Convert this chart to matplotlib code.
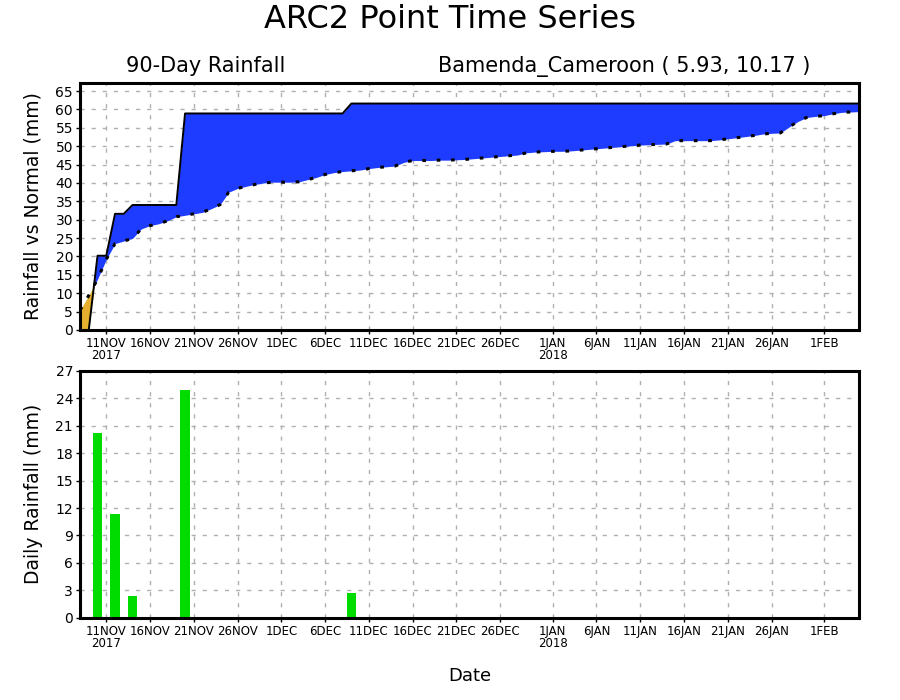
import numpy as np
import pandas as pd
import matplotlib
matplotlib.use('Agg')
import matplotlib.pyplot as plt
import matplotlib.dates as mdates

# 90 days of data, 8 Nov 2017 .. 5 Feb 2018
dates = pd.date_range('2017-11-08', periods=90, freq='D')

# days with rain (mm)
rain_days = ['2017-11-10', '2017-11-12', '2017-11-14', '2017-11-20', '2017-12-09']
rain_mm = [20.2, 11.4, 2.4, 24.9, 2.7]

# cumulative normal (mm), one value per day
normal = [
    5.4, 9.4, 13.8, 19.2, 23.5, 24.2, 24.9, 27.5, 28.4, 28.9,
    29.7, 30.8, 31.2, 31.6, 32.0, 33.0, 34.1, 37.5, 38.5, 39.1,
    39.6, 40.0, 40.2,
    40.2, 40.2, 40.3, 40.9, 41.5, 42.3, 42.8, 43.1, 43.3, 43.5,
    43.9, 44.2, 44.4, 44.6, 45.6, 46.1, 46.1, 46.1, 46.2, 46.2,
    46.3, 46.4, 46.6, 46.8, 47.0, 47.2, 47.4, 47.6, 48.2, 48.4,
    48.5,
    48.6, 48.6, 48.7, 48.9, 49.1, 49.3, 49.5, 49.7, 49.9, 50.1,
    50.3, 50.4, 50.5, 50.6, 51.5, 51.5, 51.5, 51.5, 51.5, 51.7,
    52.0, 52.3, 52.6, 52.9, 53.3, 53.5, 53.6, 55.2, 56.7, 57.8,
    58.1,
    58.3, 58.8, 59.2, 59.3, 59.4,
]

tick_dates = ['2017-11-11', '2017-11-16', '2017-11-21', '2017-11-26', '2017-12-01',
              '2017-12-06', '2017-12-11', '2017-12-16', '2017-12-21', '2017-12-26',
              '2018-01-01', '2018-01-06', '2018-01-11', '2018-01-16', '2018-01-21',
              '2018-01-26', '2018-02-01']
tick_labels = ['11NOV\n2017', '16NOV', '21NOV', '26NOV', '1DEC', '6DEC', '11DEC',
               '16DEC', '21DEC', '26DEC', '1JAN\n2018', '6JAN', '11JAN', '16JAN',
               '21JAN', '26JAN', '1FEB']

daily = pd.Series(0.0, index=dates)
daily[pd.to_datetime(rain_days)] = rain_mm
actual = daily.cumsum().values
normal = np.array(normal)

x = mdates.date2num(dates)
xt = mdates.date2num(pd.to_datetime(tick_dates))

fig = plt.figure(figsize=(9, 7), dpi=100)
ax1 = fig.add_axes([0.0889, 0.5286, 0.8656, 0.3529])
ax2 = fig.add_axes([0.0889, 0.1176, 0.8656, 0.3524])

blue = '#1e3cff'
orange = '#e6af2d'
green = '#00dc00'

ax1.fill_between(x, actual, normal, where=actual >= normal, interpolate=True,
                 color=blue, lw=0, zorder=2)
ax1.fill_between(x, actual, normal, where=actual < normal, interpolate=True,
                 color=orange, lw=0, zorder=2)
ax1.plot(x, actual, color='black', lw=1.4, zorder=3)
ax1.plot(x, normal, color='black', lw=2.2, linestyle=(0, (1.2, 3.5)), zorder=3)
ax1.set_ylim(0, 67.2)
ax1.set_yticks(np.arange(0, 66, 5))

ax2.bar(x, daily.values, width=1.1, color=green, zorder=2)
ax2.set_ylim(0, 27)
ax2.set_yticks(np.arange(0, 28, 3))

for ax in (ax1, ax2):
    ax.set_xlim(x[0], x[-1])
    ax.set_xticks(xt)
    ax.set_xticklabels(tick_labels, fontsize=8.5, linespacing=0.95)
    ax.tick_params(axis='y', labelsize=10, length=3, width=1, pad=2)
    ax.tick_params(axis='x', length=3, width=1, pad=2)
    for t in ax.get_xticklabels():
        t.set_horizontalalignment('center')
        t.set_multialignment('center')
    ax.grid(True, color='#b0b0b0', linestyle=(0, (3, 5)), lw=1, zorder=1)
    for s in ax.spines.values():
        s.set_linewidth(2.2)
        s.set_zorder(4)

ax1.set_ylabel('Rainfall vs Normal (mm)', fontsize=13.5, labelpad=9)
ax2.set_ylabel('Daily Rainfall (mm)', fontsize=13.5, labelpad=9)
ax2.set_xlabel('Date', fontsize=13, labelpad=12)

fig.text(0.5, 0.972, 'ARC2 Point Time Series', ha='center', va='center', fontsize=23)
fig.text(0.229, 0.905, '90-Day Rainfall', ha='center', va='center', fontsize=15)
fig.text(0.693, 0.905, 'Bamenda_Cameroon ( 5.93, 10.17 )', ha='center', va='center',
         fontsize=15)

fig.savefig('out.png', dpi=100)
